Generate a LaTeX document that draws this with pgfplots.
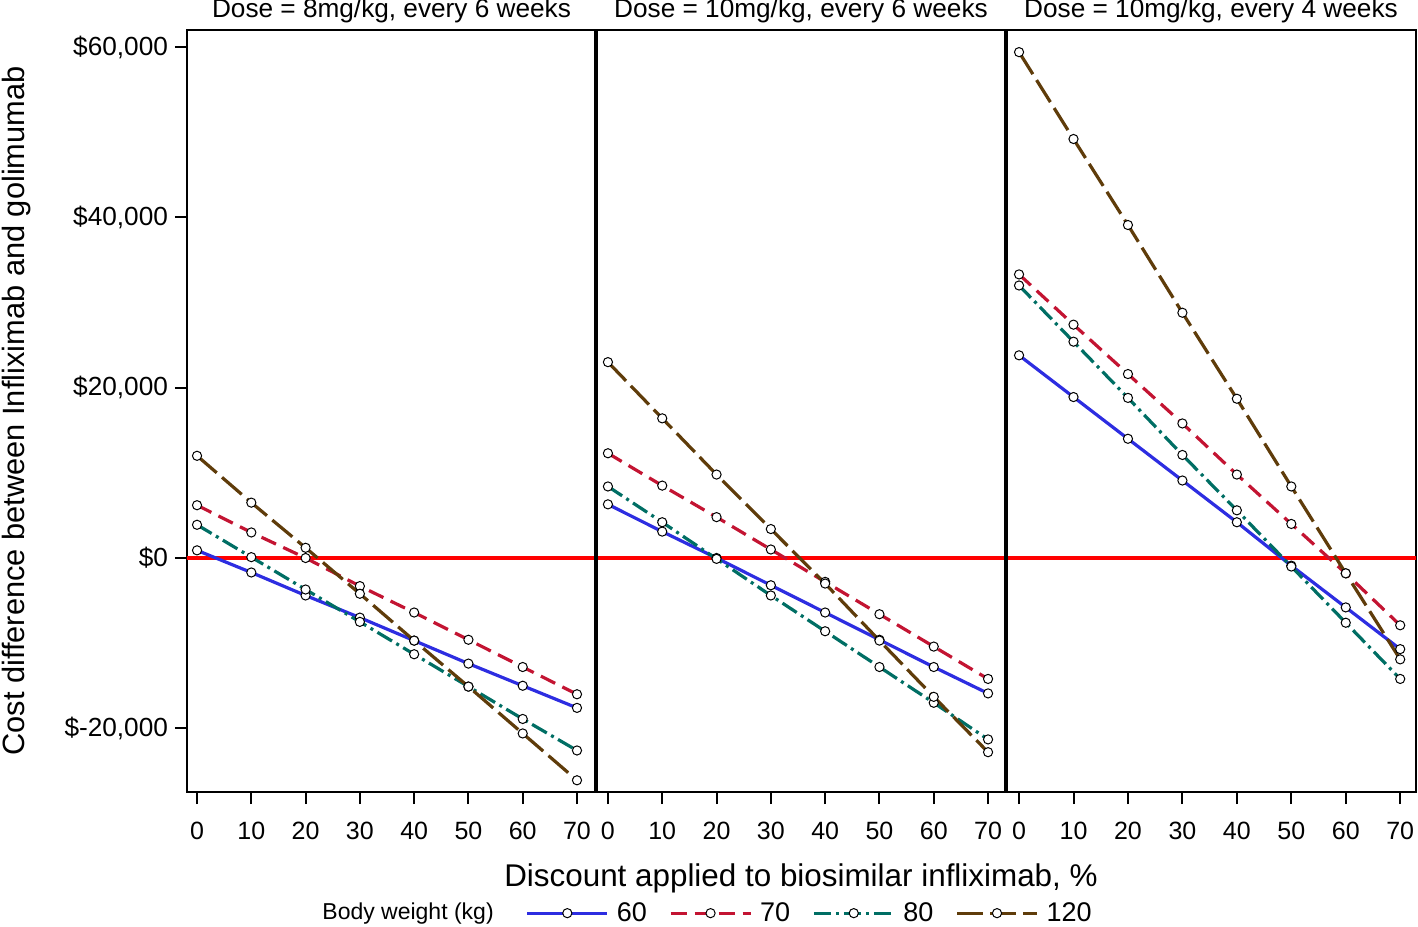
\documentclass[border=0pt]{standalone}
\usepackage{fontspec}
\setmainfont{Liberation Sans}
\usepackage{pgfplots}
\usepackage{pgfplotstable}
\pgfplotsset{compat=1.18}

\definecolor{cBlue}{RGB}{45,45,225}
\definecolor{cRed}{RGB}{195,20,50}
\definecolor{cTeal}{RGB}{0,110,100}
\definecolor{cBrown}{RGB}{95,60,10}

% cost difference (USD) by discount (%), one column per body weight
\pgfplotstableread{
x     w60     w70     w80     w120
0     900     6200    3900    12000
10   -1700    3000    100     6500
20   -4400    0      -3700    1200
30   -7000   -3300   -7500   -4200
40   -9700   -6400   -11300  -9700
50   -12400  -9600   -15100  -15100
60   -15000  -12800  -18900  -20600
70   -17600  -16000  -22600  -26100
}\doseA
\pgfplotstableread{
x     w60     w70     w80     w120
0     6300    12300   8400    23000
10    3100    8500    4200    16400
20    0       4800   -100     9800
30   -3200    1000   -4400    3400
40   -6400   -2800   -8600   -3000
50   -9600   -6600   -12800  -9700
60   -12800  -10400  -17000  -16300
70   -15900  -14200  -21300  -22800
}\doseB
\pgfplotstableread{
x     w60     w70     w80     w120
0     23800   33300   32000   59400
10    18900   27400   25400   49200
20    14000   21600   18800   39100
30    9100    15800   12100   28800
40    4200    9800    5600    18700
50   -900     4000   -1000    8400
60   -5800   -1800   -7600   -1800
70   -10700  -7900   -14200  -11900
}\doseC

\pgfplotsset{
  panel/.style={
    scale only axis, height=381pt,
    ymin=-27476, ymax=62000,
    scaled y ticks=false,
    xtick={0,10,...,70},
    tick pos=left, tick align=outside,
    major tick length=6pt,
    every tick/.style={black, line width=1pt},
    axis line style={line width=1pt},
    xticklabel style={font=\fontsize{12.5}{15}\selectfont, yshift=-5.3pt},
    yticklabel style={font=\fontsize{13.1}{15}\selectfont},
    /pgf/number format/assume math mode=true,
    legend image code/.code={\draw[mark repeat=2,mark phase=2]
      plot coordinates {(0pt,0pt)(20pt,0pt)(40pt,0pt)};},
  },
  mk/.style={mark=*, mark size=2.3pt,
    mark options={solid, fill=white, draw=black, line width=0.5pt}},
  s60/.style={cBlue, line width=1.6pt, solid, mk},
  s70/.style={cRed, line width=1.6pt, dash pattern=on 8pt off 4pt, mk},
  s80/.style={cTeal, line width=1.6pt, dash pattern=on 8.5pt off 2.5pt on 1.5pt off 2.5pt, mk},
  s120/.style={cBrown, line width=1.6pt, dash pattern=on 13pt off 3.5pt, mk},
  zero/.style={red, line width=1.6pt, forget plot},
}

\begin{document}
\begin{tikzpicture}
\begin{axis}[panel, name=left, width=204.5pt,
    xmin=-1.85, xmax=73.5,
    ytick={-20000,0,20000,40000,60000},
    yticklabels={{\$-20,000},{\$0},{\$20,000},{\$40,000},{\$60,000}}]
\addplot[zero] coordinates {(-5,0) (80,0)};
\addplot[s60] table[x=x,y=w60] {\doseA};
\addplot[s70] table[x=x,y=w70] {\doseA};
\addplot[s80] table[x=x,y=w80] {\doseA};
\addplot[s120] table[x=x,y=w120] {\doseA};
\end{axis}

\begin{axis}[panel, name=mid, width=205pt,
    at={(left.south east)}, anchor=south west,
    xmin=-2.2, xmax=73.3, ytick=\empty,
    xlabel={Discount applied to biosimilar infliximab, \%},
    xlabel style={at={(rel axis cs:0.5,0)}, anchor=center, yshift=-43pt,
      font=\fontsize{15.7}{18}\selectfont},
    legend columns=5,
    legend style={at={(0.266,-0.159)}, anchor=center, draw=none, fill=none,
      font=\fontsize{13.5}{16}\selectfont,
      /tikz/every odd column/.append style={column sep=2pt},
      /tikz/every even column/.append style={column sep=9pt}},
    ]
\addlegendimage{empty legend}
\addlegendentry{\fontsize{11.5}{14}\selectfont Body weight (kg)\kern5pt}
\addplot[zero] coordinates {(-5,0) (80,0)};
\addplot[s60] table[x=x,y=w60] {\doseB};
\addlegendentry{60}
\addplot[s70] table[x=x,y=w70] {\doseB};
\addlegendentry{70}
\addplot[s80] table[x=x,y=w80] {\doseB};
\addlegendentry{80}
\addplot[s120] table[x=x,y=w120] {\doseB};
\addlegendentry{120}
\end{axis}

\begin{axis}[panel, name=right, width=205pt,
    at={(mid.south east)}, anchor=south west,
    xmin=-2.4, xmax=72.9, ytick=\empty]
\addplot[zero] coordinates {(-5,0) (80,0)};
\addplot[s60] table[x=x,y=w60] {\doseC};
\addplot[s70] table[x=x,y=w70] {\doseC};
\addplot[s80] table[x=x,y=w80] {\doseC};
\addplot[s120] table[x=x,y=w120] {\doseC};
\end{axis}

\draw[line width=1.9pt] (left.south east) -- (left.north east);
\draw[line width=1.9pt] (mid.south east) -- (mid.north east);
\begin{scope}[every node/.style={anchor=base, inner sep=0pt, font=\fontsize{13.1}{16}\selectfont}]
\node at ([yshift=6pt]left.north) {Dose = 8mg/kg, every 6 weeks};
\node at ([yshift=6pt]mid.north) {Dose = 10mg/kg, every 6 weeks};
\node at ([yshift=6pt]right.north) {Dose = 10mg/kg, every 4 weeks};
\end{scope}
\node[rotate=90, font=\fontsize{15.4}{18}\selectfont] at ([xshift=-85.3pt]left.west)
  {Cost difference between Infliximab and golimumab};

\pgfresetboundingbox
\path[use as bounding box] ([shift={(-93.5pt,-67pt)}]left.south west)
  rectangle ([shift={(615.5pt,396pt)}]left.south west);
\end{tikzpicture}
\end{document}
